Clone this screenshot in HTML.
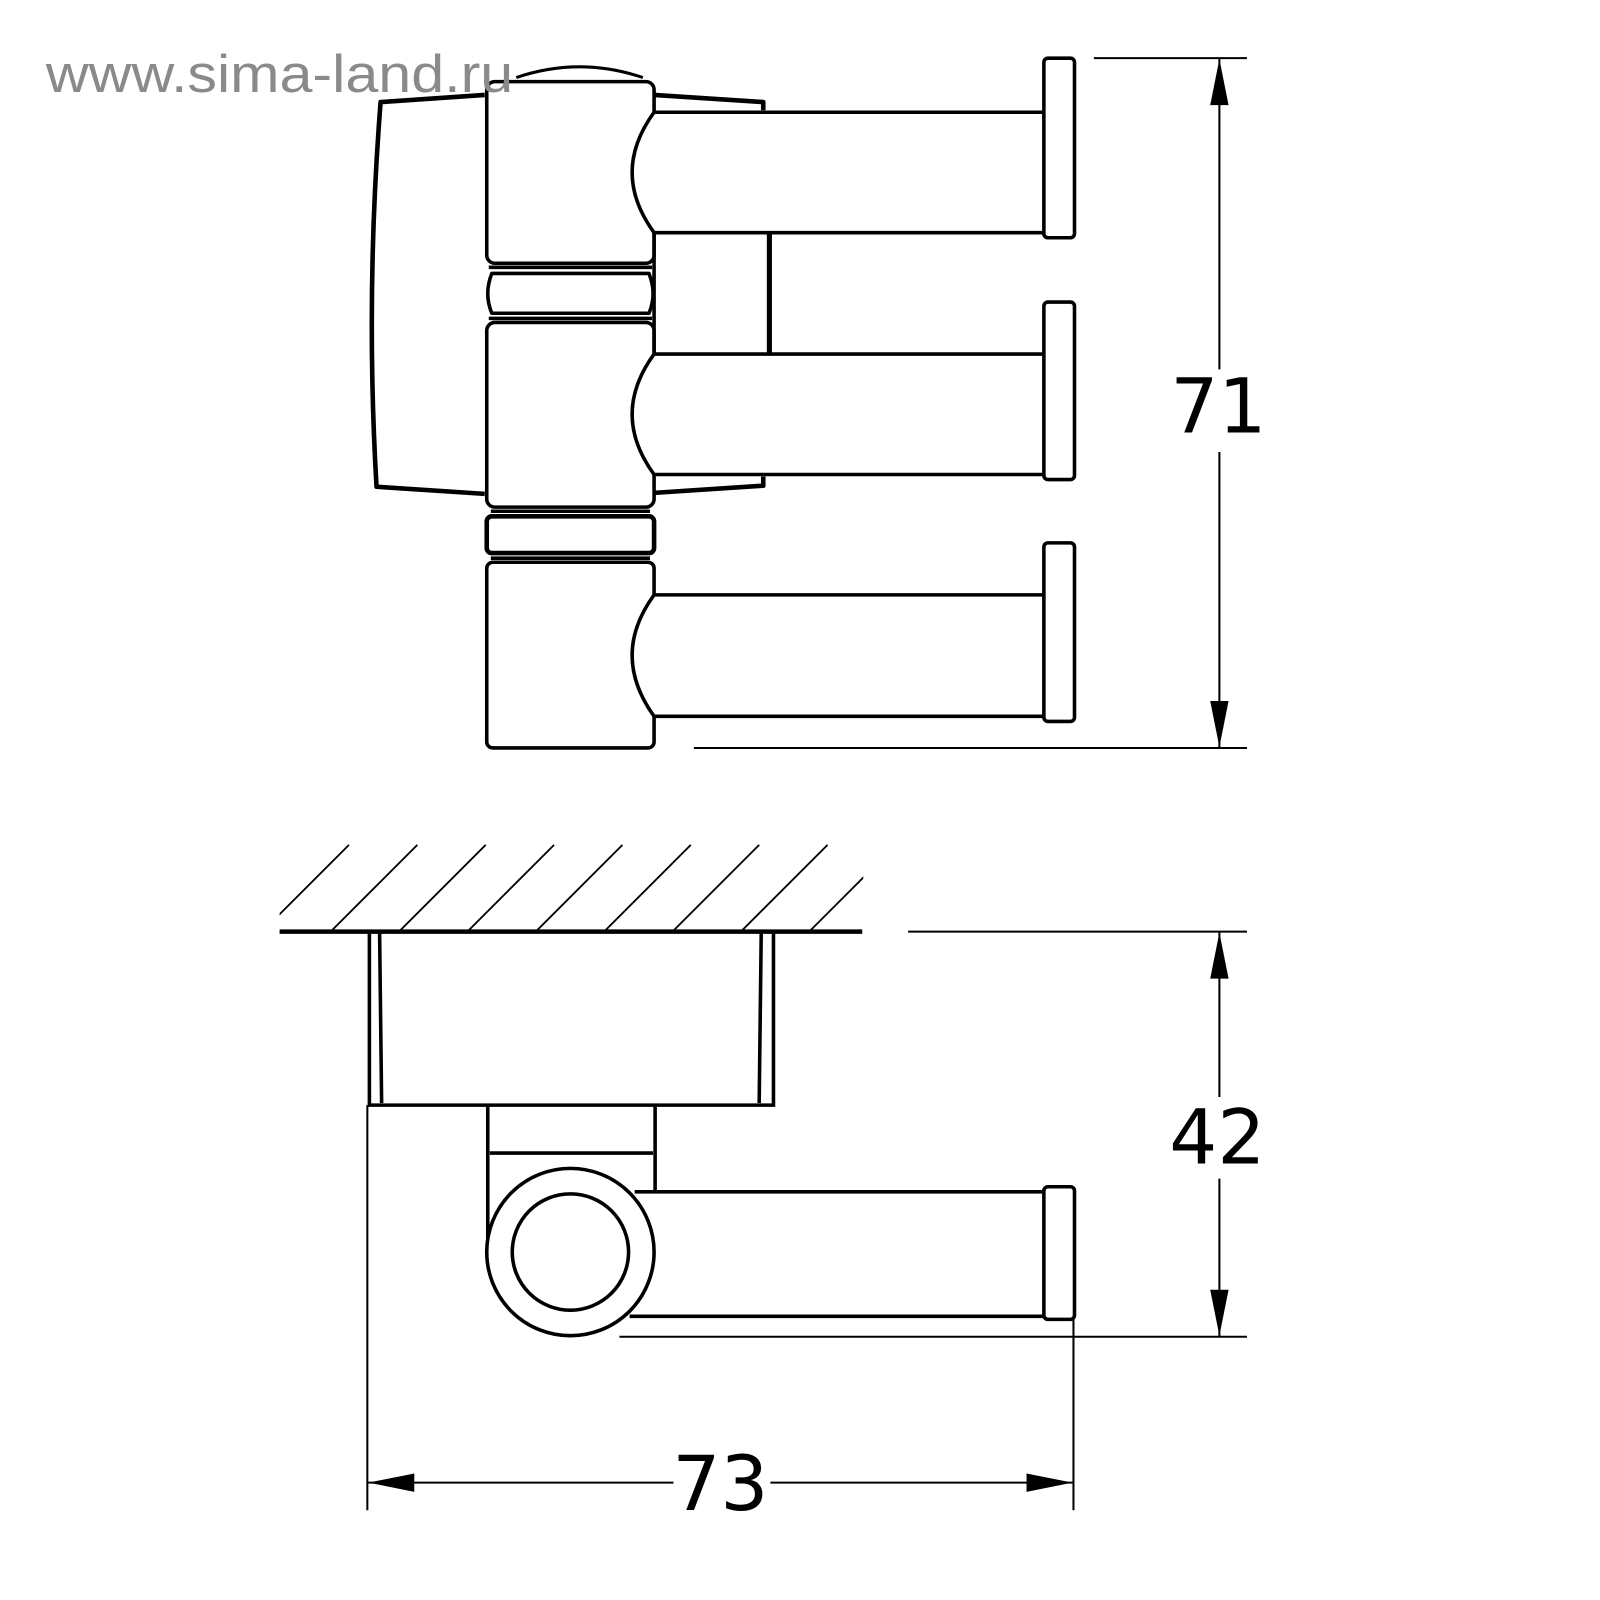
<!DOCTYPE html>
<html><head><meta charset="utf-8"><style>html,body{margin:0;padding:0;background:#fff}svg{display:block}</style></head>
<body>
<svg width="1600" height="1600" viewBox="0 0 1568 1568" xmlns="http://www.w3.org/2000/svg">
<g fill="none" stroke="#000" stroke-width="3.5" stroke-linejoin="round">
<path d="M475,93 L373,100 Q358,290 369,477 L475,484" stroke-width="4.5"/>
<path d="M506,76 Q568,55 630,76" stroke-width="3"/>
<path d="M641,93 L748,100 L748,108" stroke-width="4.5"/>
<path d="M641,483 L748,476 L748,467" stroke-width="4.5"/>
<path d="M754,229 L754,346" stroke-width="5"/>
<path d="M641,228 L641,346"/>
<rect x="477" y="80" width="164" height="178" rx="8"/>
<rect x="477" y="316" width="164" height="181" rx="8"/>
<rect x="477" y="551" width="164" height="182" rx="6"/>
<line x1="479" y1="262" x2="639" y2="262"/>
<path d="M482,268 Q474,288 482,307 L636,307 Q644,288 636,268 Z"/>
<line x1="479" y1="312" x2="639" y2="312"/>
<line x1="481" y1="501" x2="637" y2="501"/>
<rect x="477" y="506" width="164" height="36" rx="5" stroke-width="4.5"/>
<line x1="481" y1="547" x2="637" y2="547"/>
<!-- arms: white fill covers block edge -->
<path d="M1023,110 L641,110 Q598,169 641,228 L1023,228 Z" fill="#fff" stroke="none"/>
<path d="M1023,110 L641,110 Q598,169 641,228 L1023,228"/>
<path d="M1023,347 L641,347 Q598,406 641,465 L1023,465 Z" fill="#fff" stroke="none"/>
<path d="M1023,347 L641,347 Q598,406 641,465 L1023,465"/>
<path d="M1023,583 L641,583 Q598,642 641,702 L1023,702 Z" fill="#fff" stroke="none"/>
<path d="M1023,583 L641,583 Q598,642 641,702 L1023,702"/>
<rect x="1023" y="57" width="30" height="176" rx="4"/>
<rect x="1023" y="296" width="30" height="174" rx="4"/>
<rect x="1023" y="532" width="30" height="175" rx="4"/>
</g>
<g stroke="#000" stroke-width="2">
<line x1="1072" y1="57" x2="1222" y2="57"/>
<line x1="680" y1="733" x2="1222" y2="733"/>
<line x1="1195" y1="57" x2="1195" y2="362"/>
<line x1="1195" y1="443" x2="1195" y2="733"/>
</g>
<polygon points="1195,58 1186,103 1204,103" fill="#000"/>
<polygon points="1195,732 1186,687 1204,687" fill="#000"/>
<text x="1194" y="424" font-family="DejaVu Sans, sans-serif" font-size="74" text-anchor="middle">71</text>

<defs><clipPath id="hc"><rect x="274" y="827" width="572" height="86"/></clipPath></defs>
<g stroke="#000" stroke-width="1.8" clip-path="url(#hc)">
<line x1="257" y1="913" x2="342" y2="828"/><line x1="324" y1="913" x2="409" y2="828"/>
<line x1="391" y1="913" x2="476" y2="828"/><line x1="458" y1="913" x2="543" y2="828"/>
<line x1="525" y1="913" x2="610" y2="828"/><line x1="592" y1="913" x2="677" y2="828"/>
<line x1="659" y1="913" x2="744" y2="828"/><line x1="726" y1="913" x2="811" y2="828"/>
<line x1="793" y1="913" x2="878" y2="828"/>
</g>
<g fill="none" stroke="#000" stroke-width="3.5">
<line x1="274" y1="913" x2="845" y2="913" stroke-width="4.5"/>
<line x1="890" y1="913" x2="1222" y2="913" stroke-width="2"/>
<path d="M362,913 L362,1083 L758,1083 L758,913"/>
<path d="M372,914 L374,1081 M746,914 L744,1081"/>
<path d="M478,1083 L478,1227 M642,1083 L642,1168"/>
<line x1="480" y1="1130" x2="640" y2="1130"/>
<path d="M622,1168 L1023,1168 M617,1290 L1023,1290"/>
<rect x="1023" y="1163" width="30" height="130" rx="4"/>
<circle cx="559" cy="1227" r="82" fill="#fff"/>
<circle cx="559" cy="1227" r="57"/>
</g>
<g stroke="#000" stroke-width="2">
<line x1="607" y1="1310" x2="1222" y2="1310"/>
<line x1="1195" y1="913" x2="1195" y2="1075"/>
<line x1="1195" y1="1155" x2="1195" y2="1310"/>
<line x1="360" y1="1083" x2="360" y2="1480"/>
<line x1="1052" y1="1293" x2="1052" y2="1480"/>
<line x1="360" y1="1453" x2="660" y2="1453"/>
<line x1="755" y1="1453" x2="1052" y2="1453"/>
</g>
<polygon points="1195,914 1186,959 1204,959" fill="#000"/>
<polygon points="1195,1309 1186,1264 1204,1264" fill="#000"/>
<polygon points="361,1453 406,1444 406,1462" fill="#000"/>
<polygon points="1051,1453 1006,1444 1006,1462" fill="#000"/>
<text x="1193" y="1140" font-family="DejaVu Sans, sans-serif" font-size="74" text-anchor="middle">42</text>
<text x="706" y="1480" font-family="DejaVu Sans, sans-serif" font-size="74" text-anchor="middle">73</text>
<text x="45" y="90" font-family="Liberation Sans, sans-serif" font-size="52" fill="#8a8a8a" textLength="458" lengthAdjust="spacingAndGlyphs">www.sima-land.ru</text>
</svg>
</body></html>
